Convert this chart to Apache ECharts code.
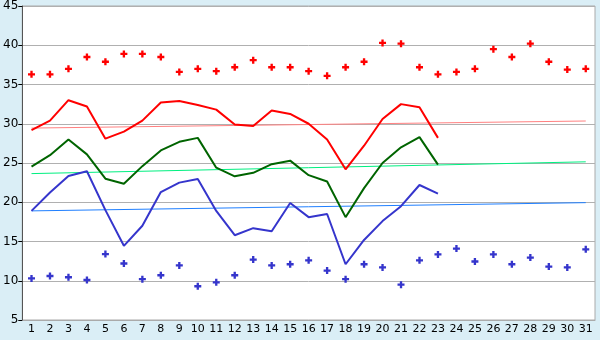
<!DOCTYPE html>
<html>
<head>
<meta charset="utf-8">
<script src="https://cdn.jsdelivr.net/npm/echarts@6/dist/echarts.min.js"></script>
<style>
  html, body { margin: 0; padding: 0; background: #daeef6; }
  #chart { width: 600px; height: 340px; }
</style>
</head>
<body>
<div id="chart"></div>
<script>
const days = ['1','2','3','4','5','6','7','8','9','10','11','12','13','14','15','16','17','18','19','20','21','22','23','24','25','26','27','28','29','30','31']

// daily highs / lows (markers)
const maxPoints = [36.3, 36.3, 37.0, 38.5, 37.9, 38.9, 38.9, 38.5, 36.6, 37.0, 36.7, 37.2, 38.1, 37.2, 37.2, 36.7, 36.1, 37.2, 37.9, 40.3, 40.2, 37.2, 36.3, 36.6, 37.0, 39.5, 38.5, 40.2, 37.9, 36.9, 37.0]
const minPoints = [10.3, 10.6, 10.45, 10.1, 13.4, 12.2, 10.2, 10.7, 11.95, 9.3, 9.8, 10.7, 12.7, 11.95, 12.1, 12.6, 11.3, 10.2, 12.1, 11.7, 9.5, 12.6, 13.35, 14.1, 12.45, 13.35, 12.1, 12.95, 11.8, 11.7, 14.0]

// lines (first 23 days)
const redLine = [29.2, 30.4, 33.0, 32.2, 28.1, 29.0, 30.4, 32.7, 32.9, 32.4, 31.8, 29.9, 29.7, 31.7, 31.25, 30.0, 28.0, 24.2, 27.2, 30.6, 32.5, 32.1, 28.2]
const greenLine = [24.55, 26.0, 28.0, 26.1, 23.0, 22.35, 24.6, 26.6, 27.7, 28.2, 24.4, 23.3, 23.75, 24.85, 25.3, 23.45, 22.65, 18.1, 21.8, 25.0, 27.0, 28.3, 24.8]
const blueLine = [18.9, 21.25, 23.35, 23.95, 19.0, 14.45, 17.0, 21.3, 22.5, 22.95, 18.9, 15.8, 16.7, 16.3, 19.9, 18.1, 18.5, 12.1, 15.2, 17.6, 19.5, 22.2, 21.1]

// trend lines: start (day 1) and end (day 31)
const redTrend = [29.45, 30.35]
const greenTrend = [23.65, 25.15]
const blueTrend = [18.9, 19.95]

function ends(pair) {
  return days.map((d, i) => i === 0 ? pair[0] : (i === days.length - 1 ? pair[1] : null))
}

const plus = 'path://M2,0H4V2H6V4H4V6H2V4H0V2H2Z'

const option = {
  backgroundColor: '#daeef6',
  animation: false,
  grid: {
    left: 20, right: 5, top: 5, bottom: 20,
    show: true, backgroundColor: '#ffffff', borderColor: '#aaaaaa', borderWidth: 1
  },
  xAxis: {
    type: 'category',
    data: days,
    boundaryGap: true,
    axisLine: { lineStyle: { color: '#aaaaaa' } },
    axisTick: { alignWithLabel: true, length: 5, lineStyle: { color: '#000' } },
    axisLabel: { color: '#000', fontSize: 11, fontFamily: 'DejaVu Sans', margin: 4, interval: 0 }
  },
  yAxis: {
    type: 'value',
    min: 5, max: 45, interval: 5,
    axisLine: { show: true, lineStyle: { color: '#555555' } },
    axisTick: { show: true, length: 4, lineStyle: { color: '#000' } },
    axisLabel: { color: '#000', fontSize: 12, fontFamily: 'DejaVu Sans', margin: 4 },
    splitLine: { lineStyle: { color: '#b0b0b0', width: 1 } }
  },
  series: [
    { type: 'line', data: ends(redTrend), connectNulls: true, symbol: 'none', lineStyle: { color: '#ff8080', width: 1 } },
    { type: 'line', data: ends(greenTrend), connectNulls: true, symbol: 'none', lineStyle: { color: '#00f080', width: 1 } },
    { type: 'line', data: ends(blueTrend), connectNulls: true, symbol: 'none', lineStyle: { color: '#1f7fff', width: 1 } },
    { type: 'line', data: redLine, symbol: 'none', lineStyle: { color: '#ff0000', width: 2 } },
    { type: 'line', data: greenLine, symbol: 'none', lineStyle: { color: '#006400', width: 2 } },
    { type: 'line', data: blueLine, symbol: 'none', lineStyle: { color: '#3535cc', width: 2 } },
    { type: 'scatter', data: maxPoints, symbol: plus, symbolSize: 7, itemStyle: { color: '#ff0000', opacity: 1 } },
    { type: 'scatter', data: minPoints, symbol: plus, symbolSize: 7, itemStyle: { color: '#3535cc', opacity: 1 } }
  ]
}

let chart = echarts.init(document.getElementById('chart'))
chart.setOption(option)
</script>
</body>
</html>
